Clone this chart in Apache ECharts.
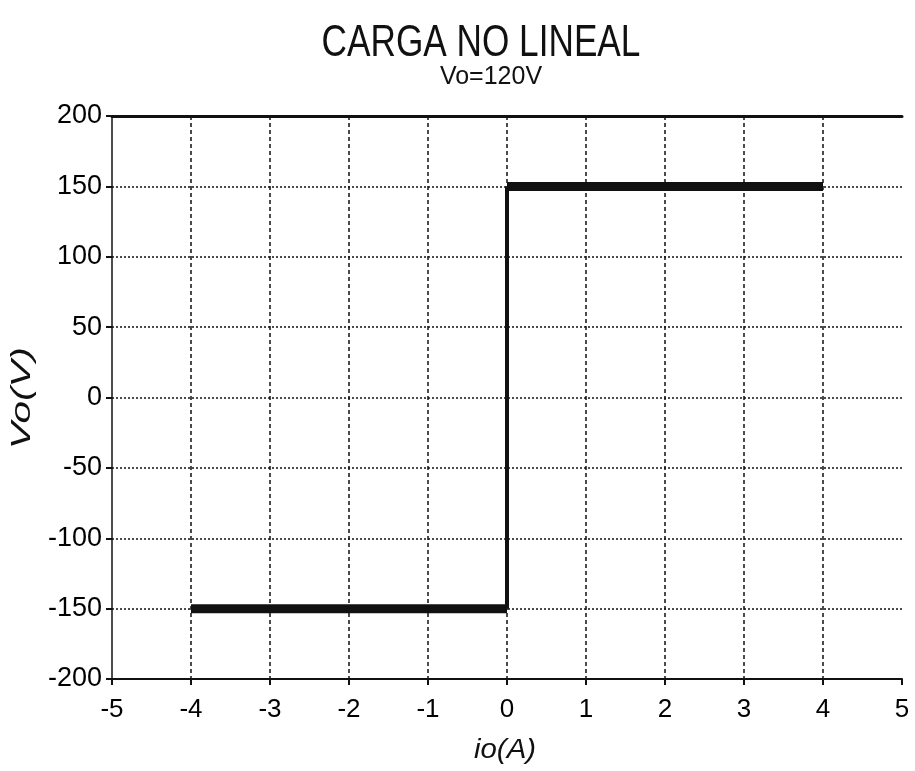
<!DOCTYPE html>
<html>
<head>
<meta charset="utf-8">
<script src="https://cdn.jsdelivr.net/npm/echarts@6/dist/echarts.min.js"></script>
<style>html,body{margin:0;padding:0;background:#fff;}#chart{width:915px;height:771px;}</style>
</head>
<body>
<div id="chart"></div>
<script>
const titleText = 'CARGA NO LINEAL';
const subtitleText = 'Vo=120V';
const xName = 'io(A)';
const yName = 'Vo(V)';
const xMin = -5, xMax = 5, xStep = 1;
const yMin = -200, yMax = 200, yStep = 50;
// step response points (io, Vo)
const stepX = [-4, 0, 0, 4];
const stepY = [-150, -150, 150, 150];

const pts = stepX.map((x, i) => [x, stepY[i]]);
const lowSeg = [pts[0], pts[1]];
const vertSeg = [pts[1], pts[2]];
const highSeg = [pts[2], pts[3]];

const ink = '#111';
const fam = 'Liberation Sans, Arial, sans-serif';

const chart = echarts.init(document.getElementById('chart'));
chart.setOption({
  animation: false,
  backgroundColor: '#fff',
  graphic: [
    { type: 'text', x: 481, y: 22, scaleX: 0.8,
      style: { text: titleText, fill: ink, font: 'normal 44px ' + fam, textAlign: 'center', textVerticalAlign: 'top' } },
    { type: 'text', x: 491, y: 65,
      style: { text: subtitleText, fill: ink, font: 'normal 25px ' + fam, textAlign: 'center', textVerticalAlign: 'top' } },
    { type: 'text', x: 22, y: 398, rotation: Math.PI / 2, scaleX: 1.45,
      style: { text: yName, fill: ink, font: 'italic 28px ' + fam, textAlign: 'center', textVerticalAlign: 'middle' } },
    { type: 'text', x: 505, y: 750, scaleX: 1.05,
      style: { text: xName, fill: ink, font: 'italic 28px ' + fam, textAlign: 'center', textVerticalAlign: 'middle' } }
  ],
  grid: { left: 112, right: 13, top: 116, bottom: 92, containLabel: false, outerBoundsMode: 'none' },
  xAxis: [
    { type: 'value', min: xMin, max: xMax, interval: xStep, position: 'bottom',
      axisLine: { show: true, onZero: false, lineStyle: { color: ink, width: 2 } },
      axisTick: { show: true, inside: false, length: 6, lineStyle: { color: ink, width: 2 } },
      axisLabel: { margin: 18, color: '#000', fontSize: 26, fontFamily: fam },
      splitLine: { show: true, showMinLine: false, showMaxLine: false, lineStyle: { color: ink, width: 1.5, type: [4, 3] } } },
    { type: 'value', min: xMin, max: xMax, interval: xStep, position: 'top',
      axisLine: { show: true, onZero: false, lineStyle: { color: ink, width: 3 } },
      axisTick: { show: false }, axisLabel: { show: false }, splitLine: { show: false } }
  ],
  yAxis: {
    type: 'value', min: yMin, max: yMax, interval: yStep,
    axisLine: { show: true, onZero: false, lineStyle: { color: ink, width: 1.5 } },
    axisTick: { show: true, inside: false, length: 6, lineStyle: { color: ink, width: 2 } },
    axisLabel: { margin: 10, color: '#000', fontSize: 27, fontFamily: fam },
    splitLine: { show: true, showMinLine: false, showMaxLine: false, lineStyle: { color: ink, width: 1.5, type: [2, 2] } }
  },
  series: [
    { type: 'line', data: lowSeg, symbol: 'none', lineStyle: { color: ink, width: 9, cap: 'butt' }, z: 5 },
    { type: 'line', data: vertSeg, symbol: 'none', lineStyle: { color: ink, width: 4, cap: 'butt' }, z: 4 },
    { type: 'line', data: highSeg, symbol: 'none', lineStyle: { color: ink, width: 9, cap: 'butt' }, z: 5 }
  ]
});
</script>
</body>
</html>
